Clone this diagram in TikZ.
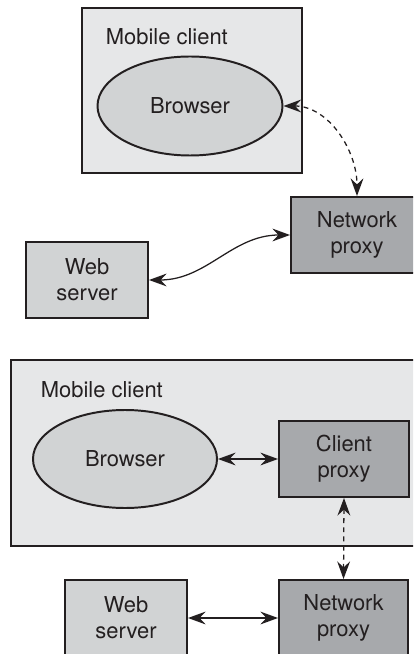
\documentclass[tikz,border=0pt]{standalone}
\usepackage{fontspec}
\setmainfont{TeX Gyre Heros}
\usetikzlibrary{arrows.meta,shapes.geometric}
\definecolor{ink}{HTML}{231F20}
\definecolor{pale}{HTML}{E6E7E8}
\definecolor{mid}{HTML}{D1D3D4}
\definecolor{dark}{HTML}{A7A9AC}
\tikzset{
  every node/.style={font=\fontsize{15.6}{18.5}\selectfont,text=ink},
  mcbox/.style={draw=ink,fill=pale,line width=1.4pt,inner sep=0pt},
  brow/.style={ellipse,draw=ink,fill=mid,line width=1.4pt,inner sep=0pt},
  webbox/.style={draw=ink,fill=mid,line width=1.4pt,inner sep=0pt,align=center,
    minimum width=30.5mm,minimum height=19mm},
  proxbox/.style={draw=ink,fill=dark,line width=1.4pt,inner sep=0pt,align=center,
    minimum height=19mm},
  link/.style={ink,line width=0.9pt,{Stealth[length=4.4mm,width=3.2mm,inset=1.5mm]}-{Stealth[length=4.4mm,width=3.2mm,inset=1.5mm]}},
  dlink/.style={link,dash pattern=on 3.5pt off 3pt}
}

\begin{document}
\begin{tikzpicture}[x=0.25mm,y=-0.25mm]
\useasboundingbox (0,0) rectangle (413,654);
\clip (0,0) rectangle (413,654);
% upper diagram
\node[mcbox,minimum width=55mm,minimum height=41.25mm] (mc1) at (192,90.5) {};
\node[anchor=base west] (lbl1) at (101,45) {Mobile client};
\node[brow,minimum width=46.25mm,minimum height=24.75mm] (br1) at (190,106) {Browser};
\node[proxbox,minimum width=33mm] (np1) at (357,235) {Network\\proxy};
\node[webbox] (wb1) at (87,280) {Web\\server};
\draw[dlink] (br1.east) to[out=0,in=90] (np1.north);
\draw[link] (wb1.east) to[out=0,in=180] (np1.west);
% lower diagram
\node[mcbox,minimum width=103mm,minimum height=46.5mm] (mc2) at (217,453) {};
\node[anchor=base west] (lbl2) at (36,397) {Mobile client};
\node[brow,minimum width=46mm,minimum height=24.5mm] (br2) at (125,459) {Browser};
\node[proxbox,minimum width=32.5mm] (cp2) at (344,459) {Client\\proxy};
\node[webbox] (wb2) at (126,618) {Web\\server};
\node[proxbox,minimum width=32.25mm] (np2) at (343.5,618) {Network\\proxy};
\draw[link] (br2.east) -- (cp2.west);
\draw[dlink] (cp2.south) -- (np2.north);
\draw[link] (wb2.east) -- (np2.west);
\end{tikzpicture}
\end{document}
